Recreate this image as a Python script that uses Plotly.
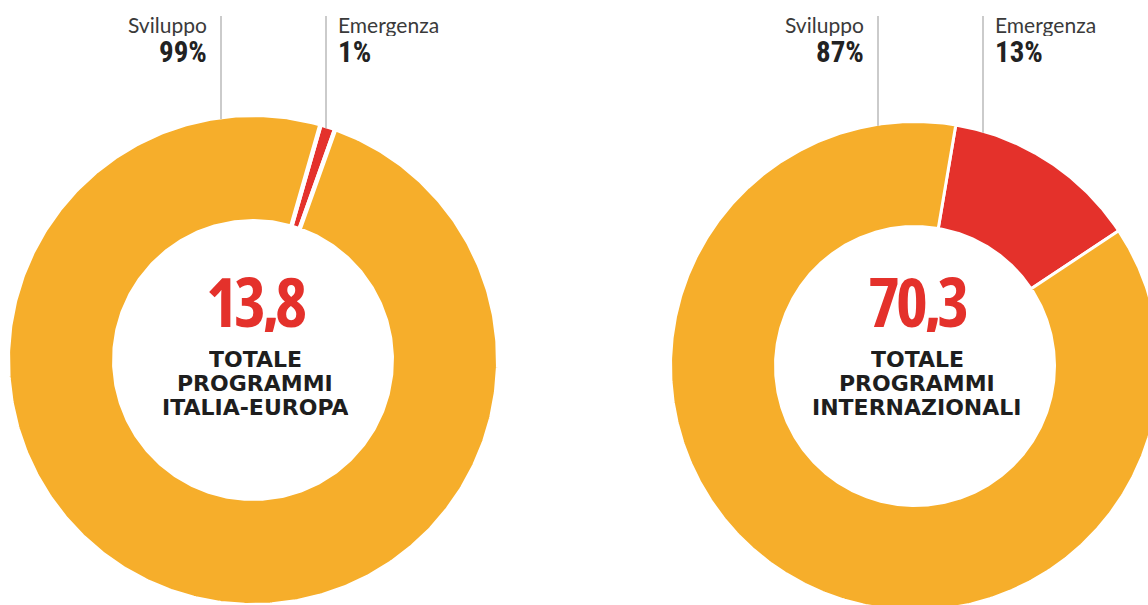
import numpy as np
import plotly.graph_objects as go

# ---- data -------------------------------------------------------------
categories = ["Emergenza", "Sviluppo"]
shares_italia_europa = [1, 99]        # percent
shares_internazionali = [13, 87]      # percent
total_italia_europa = "13,8"
total_internazionali = "70,3"
caption_italia_europa = ["TOTALE", "PROGRAMMI", "ITALIA-EUROPA"]
caption_internazionali = ["TOTALE", "PROGRAMMI", "INTERNAZIONALI"]

# ---- style ------------------------------------------------------------
COLORS = {"Sviluppo": "#F6AE2B", "Emergenza": "#E4312B"}
RED = "#E4312B"
TEXT = "#3a3a3a"
DARK = "#222222"
LEADER = "#a8a8a8"
W, H = 1148, 605
NARROW = "Open Sans, sans-serif"
PCT_FONT = "Roboto Condensed, Roboto, sans-serif"


def narrow(txt, spacing=0):
    """Bold, condensed-width run of text."""
    return (f"<span style='font-stretch:75%;letter-spacing:{spacing}px'>"
            f"<b>{txt}</b></span>")


# donut layout: centre, outer / inner radius, start angle of first slice
# (degrees clockwise from 12 o'clock), white separator width, label anchors
donuts = [
    dict(shares=shares_italia_europa, total=total_italia_europa,
         caption=caption_italia_europa, cx=253, cy=360, R=243, r=141,
         start=16.0, gap=4.5, leader_x={"Sviluppo": 221, "Emergenza": 326}),
    dict(shares=shares_internazionali, total=total_internazionali,
         caption=caption_internazionali, cx=915, cy=366, R=243, r=141,
         start=9.6, gap=3.0, leader_x={"Sviluppo": 878, "Emergenza": 983}),
]


def ring_sector(cx, cy, r_out, r_in, a0, a1):
    """Closed outline of an annular sector, angles clockwise from top."""
    n = max(int(abs(a1 - a0) * 2), 4)
    t = np.radians(np.linspace(a0, a1, n))
    xo, yo = cx + r_out * np.sin(t), cy - r_out * np.cos(t)
    xi, yi = cx + r_in * np.sin(t[::-1]), cy - r_in * np.cos(t[::-1])
    xs = np.concatenate([xo, xi, xo[:1]])
    ys = np.concatenate([yo, yi, yo[:1]])
    return xs, ys


fig = go.Figure()
annotations = []
shapes = []

for d in donuts:
    total = sum(d["shares"])
    angle = d["start"]
    g = d["gap"]
    for cat, val in zip(categories, d["shares"]):
        span = 360.0 * val / total
        xs, ys = ring_sector(d["cx"], d["cy"], d["R"] + g / 2, d["r"] - g / 2,
                             angle, angle + span)
        fig.add_trace(go.Scatter(
            x=xs, y=ys, mode="lines", fill="toself",
            fillcolor=COLORS[cat], line=dict(color="white", width=g),
            hoverinfo="text", text=f"{cat}: {val}%", showlegend=False))
        angle += span

    # leader lines from the label row down to the ring, with two-line labels
    for cat, val in zip(categories, d["shares"]):
        lx = d["leader_x"][cat]
        y_edge = d["cy"] - np.sqrt(d["R"] ** 2 - (lx - d["cx"]) ** 2)
        shapes.append(dict(type="line", xref="x", yref="y",
                           x0=lx, x1=lx, y0=16, y1=y_edge,
                           line=dict(color=LEADER, width=1.2)))
        if cat == "Sviluppo":
            tx, anchor = lx - 12, "right"
        else:
            tx, anchor = lx + 10, "left"
        annotations.append(dict(x=tx, y=24, xref="x", yref="y", text=cat,
                                showarrow=False, xanchor=anchor, yanchor="middle",
                                height=24,
                                font=dict(family="Lato, Open Sans, sans-serif",
                                          size=21, color=TEXT)))
        annotations.append(dict(x=tx, y=51, xref="x", yref="y",
                                text=f"<b>{val}%</b>",
                                showarrow=False, xanchor=anchor, yanchor="middle",
                                height=25,
                                font=dict(family=PCT_FONT, size=29, color=DARK)))

    # centre figure and caption
    annotations.append(dict(x=d["cx"] + 2, y=300, xref="x", yref="y",
                            text=narrow(d["total"], -4), showarrow=False,
                            xanchor="center", yanchor="middle", height=64,
                            font=dict(family=NARROW, size=68, color=RED)))
    for i, line in enumerate(d["caption"]):
        annotations.append(dict(x=d["cx"] + 2, y=359 + 24 * i, xref="x", yref="y",
                                text=f"<b>{line}</b>", showarrow=False,
                                xanchor="center", yanchor="middle", height=23,
                                font=dict(family="DejaVu Sans, sans-serif",
                                          size=22, color="#1e1e1e")))

fig.update_layout(
    width=W, height=H,
    margin=dict(l=0, r=0, t=0, b=0),
    paper_bgcolor="white", plot_bgcolor="white",
    showlegend=False,
    xaxis=dict(range=[0, W], visible=False, fixedrange=True),
    yaxis=dict(range=[H, 0], visible=False, fixedrange=True),
    annotations=annotations,
    shapes=shapes,
)

fig.write_html("out.html")
